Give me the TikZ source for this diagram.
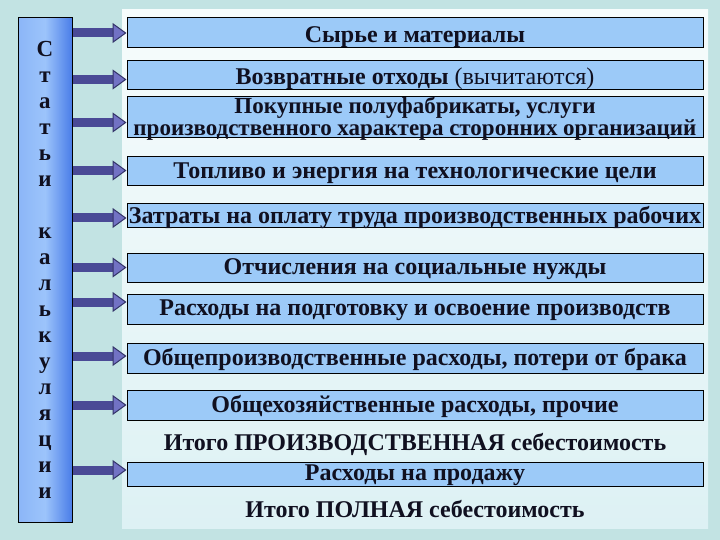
\documentclass[tikz,border=0pt]{standalone}
\usepackage{fontspec}
\setmainfont{Liberation Serif}
\usetikzlibrary{arrows.meta,calc}

\definecolor{bgteal}{HTML}{C2E3E3}
\definecolor{panelhi}{HTML}{F6FCFC}
\definecolor{panello}{HTML}{DDF1F4}
\definecolor{boxblue}{HTML}{9CCAF8}
\definecolor{barlight}{HTML}{9CC4FB}
\definecolor{bardark}{HTML}{4A7DE8}
\definecolor{shaftcol}{HTML}{4A4A96}
\definecolor{headcol}{HTML}{7272C4}
\definecolor{inkcol}{HTML}{101020}

\tikzset{
  itembox/.style={draw=black, line width=1pt, fill=boxblue, minimum width=576pt, inner sep=0pt},
  itemtxt/.style={font=\fontsize{24}{16}\selectfont\bfseries, text=inkcol, align=center,
    inner sep=0pt, yshift=-1.5pt},
  sumtxt/.style={itemtxt},
  blockarr/.style={line width=9pt, draw=shaftcol,
    -{Triangle[length=14pt, width=20pt, line width=1pt, fill=headcol, color=shaftcol!70!black]}},
}

\begin{document}
\begin{tikzpicture}[x=1pt, y=-1pt]
\useasboundingbox (0,0) rectangle (720,540);
\fill[bgteal] (0,0) rectangle (720,540);
% light panel behind the list
\shade[top color=panelhi, bottom color=panello] (122,10) rectangle (708,528);

% left column
\node[draw=black, line width=1pt, left color=barlight!80!bardark, right color=bardark,
      middle color=barlight, minimum width=54pt, minimum height=504pt,
      font=\fontsize{23}{26}\selectfont\bfseries, text=inkcol, align=center] (bar) at (45,270)
  {С\\т\\а\\т\\ь\\и\\ \\к\\а\\л\\ь\\к\\у\\л\\я\\ц\\и\\и};

% items
\node[itembox, minimum height=30pt, label={[itemtxt, yshift=-3pt]center:Сырье и материалы}] (b1) at (415,33) {};
\node[itembox, minimum height=29pt, label={[itemtxt, yshift=-2pt]center:Возвратные отходы {\mdseries(вычитаются)}}] (b2) at (415,75.5) {};
\node[itembox, minimum height=41pt, label={[itemtxt, font=\fontsize{23}{16}\selectfont\bfseries]center:Покупные полуфабрикаты, услуги\\производственного характера сторонних организаций}] (b3) at (415,117.5) {};
\node[itembox, minimum height=29pt, label={[itemtxt]center:Топливо и энергия на технологические цели}] (b4) at (415,171.5) {};
\node[itembox, minimum height=24pt, label={[itemtxt]center:Затраты на оплату труда производственных рабочих}] (b5) at (415,216) {};
\node[itembox, minimum height=29pt, label={[itemtxt]center:Отчисления на социальные нужды}] (b6) at (415,267.5) {};
\node[itembox, minimum height=30pt, label={[itemtxt]center:Расходы на подготовку и освоение производств}] (b7) at (415,309) {};
\node[itembox, minimum height=30pt, label={[itemtxt]center:Общепроизводственные расходы, потери от брака}] (b8) at (415,358) {};
\node[itembox, minimum height=30pt, label={[itemtxt]center:Общехозяйственные расходы, прочие}] (b9) at (415,405) {};
\node[sumtxt] (s1) at (415,443) {Итого ПРОИЗВОДСТВЕННАЯ себестоимость};
\node[itembox, minimum height=24pt, label={[itemtxt]center:Расходы на продажу}] (b10) at (415,474) {};
\node[sumtxt] (s2) at (415,508) {Итого ПОЛНАЯ себестоимость};

% arrows from the column to the items
\foreach \b/\d in {b1/0, b2/-4, b3/-5, b4/1, b5/-2, b6/0, b7/7, b8/2, b9/0, b10/4}
  \draw[blockarr] ([yshift=\d pt]\b.west -| bar.east) -- ([yshift=\d pt]\b.west);
\end{tikzpicture}
\end{document}
